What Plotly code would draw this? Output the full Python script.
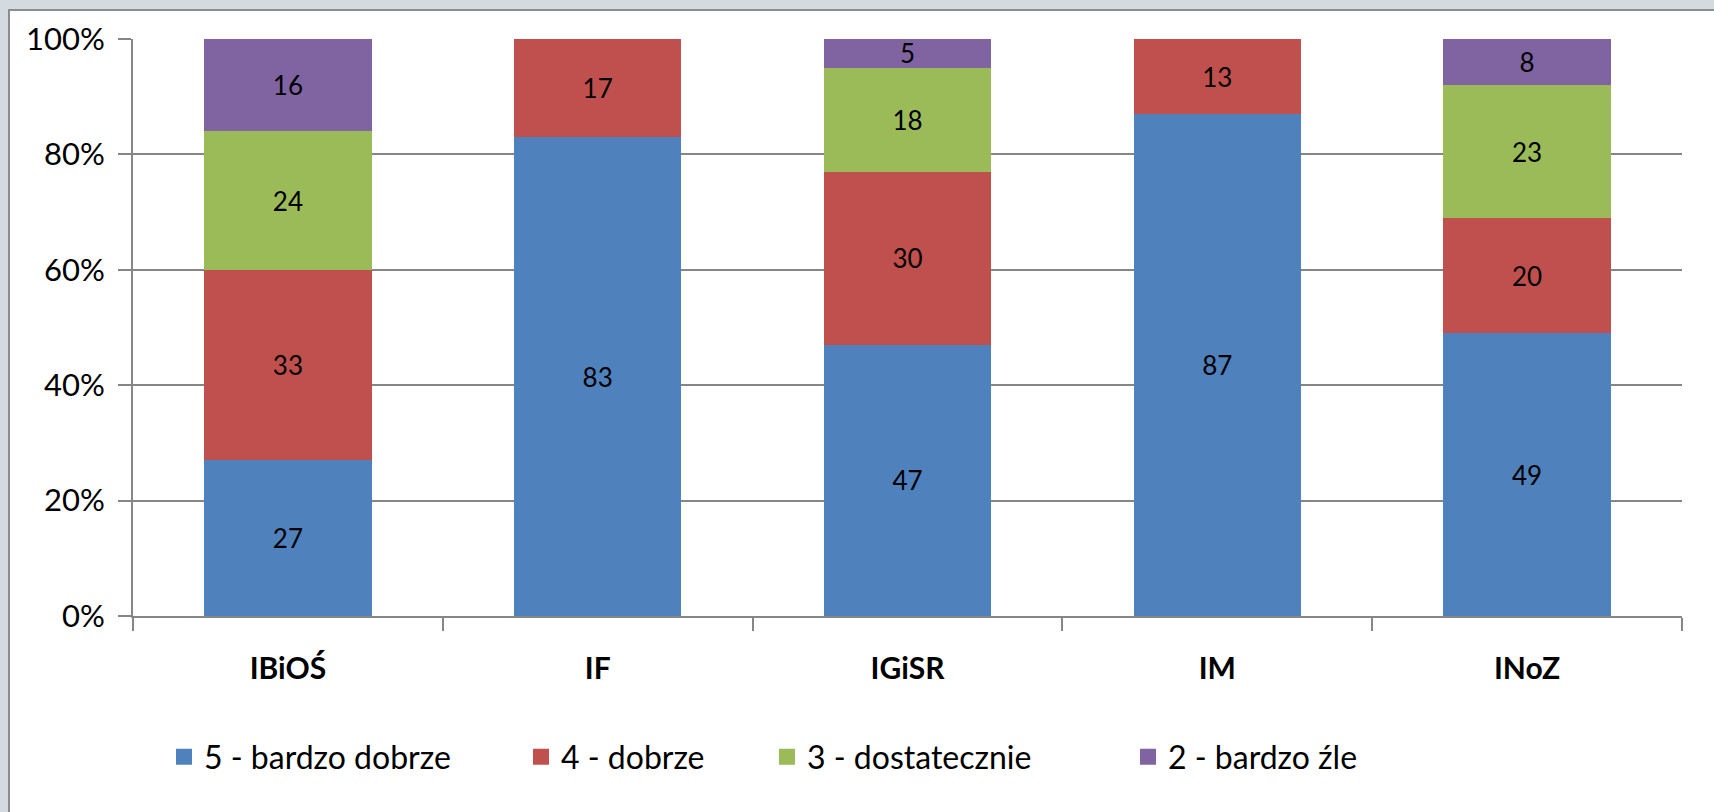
import plotly.graph_objects as go

# categories and series values (percent of answers)
institutes = ["IBiOŚ", "IF", "IGiSR", "IM", "INoZ"]
series_names = ["5 - bardzo dobrze", "4 - dobrze", "3 - dostatecznie", "2 - bardzo źle"]
v5 = [27, 83, 47, 87, 49]
v4 = [33, 17, 30, 13, 20]
v3 = [24, None, 18, None, 23]
v2 = [16, None, 5, None, 8]
y_ticks = [0, 20, 40, 60, 80, 100]
y_tick_text = ["0%", "20%", "40%", "60%", "80%", "100%"]

colors = ["#4F81BD", "#C0504D", "#9BBB59", "#8064A2"]
FONT = "Lato, Calibri, sans-serif"
W, H = 1714, 812
L, R, T, B = 133, 32, 39, 196
PW, PH = W - L - R, H - T - B

# one legend per series so the entries sit where Excel put them
legend_ids = ["legend", "legend2", "legend3", "legend4"]
legend_px = [164, 521, 767, 1128]

fig = go.Figure()
for name, vals, col, lid in zip(series_names, [v5, v4, v3, v2], colors, legend_ids):
    fig.add_trace(
        go.Bar(
            x=institutes,
            y=vals,
            name=name,
            marker=dict(color=col, line=dict(width=0)),
            text=[("" if v is None else str(v)) for v in vals],
            textposition="inside",
            insidetextanchor="middle",
            textangle=0,
            textfont=dict(family=FONT, size=26, color="black"),
            showlegend=False,
            hovertemplate="%{x}<br>" + name + ": %{y}<extra></extra>",
        )
    )
    # legend entry with a bigger square swatch
    fig.add_trace(
        go.Scatter(
            x=[None],
            y=[None],
            mode="markers",
            name=name,
            legend=lid,
            marker=dict(symbol="square", size=20, color=col),
            showlegend=True,
        )
    )

# white chart area on the grey window background
fig.add_shape(
    type="rect", xref="paper", yref="paper",
    x0=(9 - L) / PW, x1=1.2, y0=-0.5, y1=(H - B - 10) / PH,
    fillcolor="white", line=dict(color="#8c8c8c", width=2), layer="below",
)

legend_style = dict(
    orientation="h",
    xref="container",
    yref="container",
    xanchor="left",
    y=1 - 757 / H,
    yanchor="middle",
    font=dict(family=FONT, size=32),
    itemwidth=30,
    bgcolor="rgba(0,0,0,0)",
)

fig.update_layout(
    barmode="stack",
    bargap=0.46,
    width=W,
    height=H,
    margin=dict(l=L, r=R, t=T, b=B, autoexpand=False),
    paper_bgcolor="#d3dbe0",
    plot_bgcolor="white",
    uniformtext=dict(minsize=26, mode="show"),
    font=dict(family=FONT, color="black"),
    showlegend=True,
)
for lid, px in zip(legend_ids, legend_px):
    fig.update_layout({lid: dict(legend_style, x=px / W)})

fig.update_xaxes(
    type="category",
    tickson="boundaries",
    ticks="outside",
    ticklen=13,
    tickwidth=2,
    tickcolor="#868686",
    showline=True,
    linecolor="#868686",
    linewidth=2,
    showgrid=False,
    automargin=False,
    tickfont=dict(family=FONT, size=30, color="black", weight="bold"),
    ticklabelstandoff=25,
)

fig.update_yaxes(
    range=[0, 100],
    tickmode="array",
    tickvals=y_ticks,
    ticktext=y_tick_text,
    ticks="outside",
    ticklen=13,
    tickwidth=2,
    tickcolor="#868686",
    showline=True,
    linecolor="#868686",
    linewidth=2,
    showgrid=True,
    gridcolor="#868686",
    gridwidth=2,
    zeroline=False,
    automargin=False,
    tickfont=dict(family=FONT, size=31, color="black"),
    ticklabelstandoff=7,
)

# drop the default 8px page margin so the figure fills the window
fig.write_html(
    "out.html",
    config={"displayModeBar": False},
    post_script="document.body.style.margin='0';",
)
